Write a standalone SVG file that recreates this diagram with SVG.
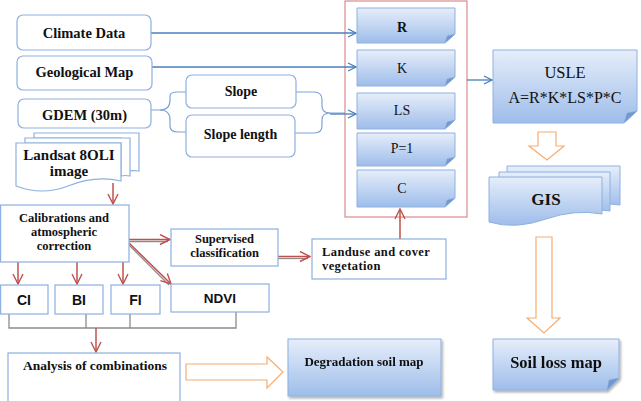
<svg xmlns="http://www.w3.org/2000/svg" width="641" height="401" viewBox="0 0 641 401">
<defs>
<linearGradient id="bg" x1="0" y1="0" x2="0" y2="1">
<stop offset="0" stop-color="#e6eefa"/>
<stop offset="1" stop-color="#9ebdea"/>
</linearGradient>
<filter id="sh" x="-5%" y="-5%" width="115%" height="120%">
<feDropShadow dx="1.5" dy="2" stdDeviation="1" flood-color="#000" flood-opacity="0.3"/>
</filter>
<marker id="ab" viewBox="0 0 10 10" refX="9" refY="5" markerWidth="10" markerHeight="10" markerUnits="userSpaceOnUse" orient="auto">
<path d="M1,1 L9,5 L1,9" fill="none" stroke="#4a7ebb" stroke-width="1.3"/>
</marker>
<marker id="ar" viewBox="0 0 12 12" refX="11" refY="6" markerWidth="12" markerHeight="12" markerUnits="userSpaceOnUse" orient="auto">
<path d="M1,1 L11,6 L1,11" fill="none" stroke="#c0504d" stroke-width="1.4"/>
</marker>
<style>
.rb{fill:#fff;stroke:#8eb0e0;stroke-width:1.2}
.sq{fill:#fff;stroke:#8eb0e0;stroke-width:1.2}
.gb{fill:url(#bg);stroke:#8eb0e0;stroke-width:1}
.fold{fill:#6f97d0;stroke:#8eb0e0;stroke-width:0.6}
.tb{font-family:"Liberation Serif",serif;font-weight:bold;fill:#111;text-anchor:middle}
.tl{font-family:"Liberation Serif",serif;font-weight:bold;fill:#111;text-anchor:start;letter-spacing:0.4px}
.ts{font-family:"Liberation Sans",sans-serif;font-weight:bold;fill:#111;text-anchor:middle}
.td{font-family:"Liberation Serif",serif;fill:#111;text-anchor:middle}
.bl{fill:none;stroke:#4a7ebb;stroke-width:1.3}
.bc{fill:none;stroke:#7ea3d6;stroke-width:1.2}
.rl{fill:none;stroke:#c0504d;stroke-width:1.5}
.gl{fill:none;stroke:#8c8c8c;stroke-width:1.3}
.ho{fill:#fff;stroke:#f6ad73;stroke-width:1.2}
</style>
</defs>

<!-- red frame -->
<rect x="345" y="1" width="122" height="216" fill="none" stroke="#d98c8c" stroke-width="1.2"/>

<g id="connectors">
<path class="bl" d="M151,33 H356" marker-end="url(#ab)"/>
<path class="bl" d="M152,67 H356" marker-end="url(#ab)"/>
<path class="bc" d="M151,110 H160 Q170,110 170,100 V96 Q170,92 178,92 H186"/>
<path class="bc" d="M160,110 Q170,110 170,120 V126 Q170,132 178,132 H186"/>
<path class="bc" d="M296,92 H314 Q322,92 322,100 V106 Q322,113 330,113 H345"/>
<path class="bc" d="M295,133 H314 Q322,133 322,126 V120 Q322,113 330,113"/>
<path class="bl" d="M330,114 H356" marker-end="url(#ab)"/>
<path class="bl" d="M467,80 H492" marker-end="url(#ab)"/>
<!-- red arrows -->
<path class="rl" d="M113,183 V204" marker-end="url(#ar)"/>
<path class="gl" d="M129,241.5 H168"/>
<path class="rl" d="M129,239.5 H170" marker-end="url(#ar)"/>
<path class="gl" d="M129,245 L169,285"/>
<path class="rl" d="M129,243 L171,284" marker-end="url(#ar)"/>
<path class="gl" d="M278,258.5 H308"/>
<path class="rl" d="M278,256.5 H310" marker-end="url(#ar)"/>
<path class="rl" d="M400,239 V209" marker-end="url(#ar)"/>
<path class="rl" d="M18,262 V284" marker-end="url(#ar)"/>
<path class="rl" d="M77,262 V284" marker-end="url(#ar)"/>
<path class="rl" d="M123,262 V284" marker-end="url(#ar)"/>
<!-- gray combiners -->
<path class="gl" d="M9,314 V328 H236 V312 M86,314 V328 M130,314 V328"/>
<path class="rl" d="M96,328 V352" marker-end="url(#ar)"/>
<!-- hollow orange arrows -->
<path class="ho" d="M538,132 H556 V146 H564 L547,160 L529,146 H538 Z"/>
<path class="ho" d="M536,237 H552 V318 H560 L544,333 L527,318 H536 Z"/>
<path class="ho" d="M186,364 H267 V357 L283,372 L267,388 V380 H186 Z"/>
</g>

<g id="climate"><rect class="rb" x="17" y="15" width="134" height="35" rx="6"/><text class="tb" x="84" y="38" font-size="14.5">Climate Data</text></g>
<g id="geological"><rect class="rb" x="17" y="56" width="135" height="34" rx="6"/><text class="tb" x="84.5" y="77" font-size="14.5">Geological Map</text></g>
<g id="gdem"><rect class="rb" x="18" y="99" width="133" height="29" rx="6"/><text class="tb" x="84.5" y="120" font-size="14.5">GDEM (30m)</text></g>
<g id="slope"><rect class="rb" x="186" y="75" width="110" height="33" rx="6"/><text class="tb" x="241" y="96" font-size="14">Slope</text></g>
<g id="slopelength"><rect class="rb" x="186" y="115" width="109" height="42" rx="6"/><text class="tb" x="240.5" y="139" font-size="14">Slope length</text></g>

<g id="R"><path class="gb" d="M357,8 H455 V34 L445,43 H357 Z"/><path class="fold" d="M455,34 L445,43 L447,36 Z"/><text class="td" x="402" y="32" font-size="14" font-weight="bold">R</text></g>
<g id="K"><path class="gb" d="M357,50 H455 V77 L445,86 H357 Z"/><path class="fold" d="M455,77 L445,86 L447,79 Z"/><text class="td" x="402" y="73" font-size="14">K</text></g>
<g id="LS"><path class="gb" d="M357,93 H455 V120 L445,129 H357 Z"/><path class="fold" d="M455,120 L445,129 L447,122 Z"/><text class="td" x="402" y="115" font-size="14">LS</text></g>
<g id="P"><path class="gb" d="M357,133 H455 V157 L445,166 H357 Z"/><path class="fold" d="M455,157 L445,166 L447,159 Z"/><text class="td" x="402" y="153" font-size="14">P=1</text></g>
<g id="C"><path class="gb" d="M357,170 H455 V198 L445,207 H357 Z"/><path class="fold" d="M455,198 L445,207 L447,200 Z"/><text class="td" x="402" y="193" font-size="14">C</text></g>

<g id="usle"><path class="gb" d="M493,50 H637 V111 L624,123 H493 Z"/><path class="fold" d="M637,111 L624,123 L627,113 Z"/><text class="td" x="565" y="78" font-size="16.5">USLE</text><text class="td" x="565" y="103" font-size="16">A=R*K*LS*P*C</text></g>

<g id="gis">
<path class="gb" d="M507,166 H620 V205 Q600,202 580,207 H507 Z"/>
<path class="gb" d="M499,172 H610 V211 Q590,208 570,213 H499 Z"/>
<path class="gb" d="M489,177 H602 V214 Q575,209 546,219 Q515,230 489,222 Z"/>
<text class="tb" x="546" y="205" font-size="17">GIS</text>
</g>

<g id="soilloss" filter="url(#sh)"><path class="gb" d="M493,339 H619 V378 L607,390 H493 Z"/><path class="fold" d="M619,378 L607,390 L609,380 Z"/><text class="tb" x="556" y="368" font-size="16.5">Soil loss map</text></g>
<g id="degradation" filter="url(#sh)"><rect class="gb" x="288" y="339" width="153" height="57"/><text class="tb" x="364" y="366" font-size="13">Degradation soil map</text></g>

<g id="landsat">
<path class="sq" d="M34,133 H139 V171 Q130,170 121,172 V138 H34 Z"/>
<path class="sq" d="M25,138 H130 V176 Q125,175 121,176 V143 H25 Z"/>
<path class="sq" d="M16,143 H121 V181 Q95,175 68,186 Q42,196 16,186 Z"/>
<text class="tb" x="69" y="160" font-size="15">Landsat 8OLI</text>
<text class="tb" x="69" y="176" font-size="15">image</text>
</g>
<g id="calibrations"><rect class="sq" x="0.6" y="205" width="128.4" height="57"/><text class="tb" x="64" y="222" font-size="12.5">Calibrations and</text><text class="tb" x="64" y="236" font-size="12.5">atmospheric</text><text class="tb" x="64" y="250" font-size="12.5">correction</text></g>
<g id="supervised"><rect class="sq" x="171" y="229" width="107" height="37"/><text class="tb" x="224.5" y="243" font-size="12.5">Supervised</text><text class="tb" x="224.5" y="257" font-size="12.5">classification</text></g>
<g id="landuse"><rect class="sq" x="312" y="239" width="134" height="40"/><text class="tl" x="322" y="256" font-size="12.5">Landuse and cover</text><text class="tl" x="322" y="270" font-size="12.5">vegetation</text></g>
<g id="CI"><rect class="sq" x="0.6" y="285" width="47.4" height="29"/><text class="ts" x="24" y="305" font-size="14">CI</text></g>
<g id="BI"><rect class="sq" x="55" y="285" width="48" height="29"/><text class="ts" x="79" y="305" font-size="14">BI</text></g>
<g id="FI"><rect class="sq" x="111" y="285" width="49" height="29"/><text class="ts" x="135.5" y="305" font-size="14">FI</text></g>
<g id="NDVI"><rect class="sq" x="171" y="284" width="98" height="28"/><text class="ts" x="220" y="303" font-size="13.5">NDVI</text></g>
<g id="analysis"><rect class="sq" x="8" y="353" width="172" height="52"/><text class="tb" x="95" y="370" font-size="13.5">Analysis of combinations</text></g>
</svg>
